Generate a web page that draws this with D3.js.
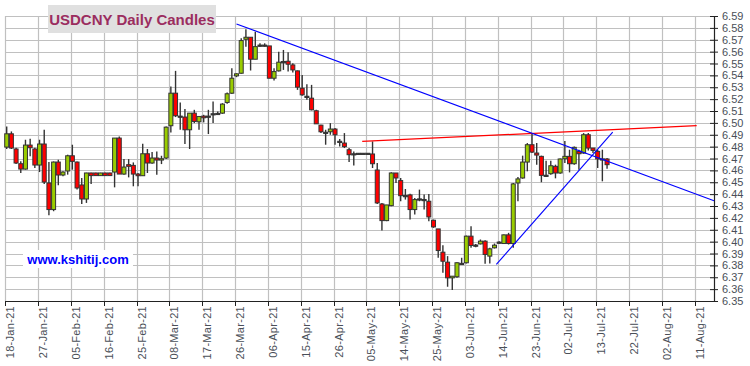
<!DOCTYPE html>
<html><head><meta charset="utf-8">
<script src="https://cdn.jsdelivr.net/npm/d3@7"></script>
<style>html,body{margin:0;padding:0;background:#fff;}svg{display:block;font-family:Arial,"Liberation Sans",sans-serif;}</style>
</head><body>
<svg id="c" width="750" height="366"></svg>
<script>
// ---- data (trading-day index from 18-Jan-21) ----
const opens = [6.4796,6.4908,6.4780,6.4656,6.4611,6.4813,6.4780,6.4645,6.4822,6.4494,6.4270,6.4670,6.4561,6.4595,6.4723,6.4670,6.4477,6.4359,6.4578,6.4578,6.4556,6.4578,6.4578,6.4586,6.4872,6.4569,6.4648,6.4642,6.4569,6.4555,6.4740,6.4662,6.4704,6.4687,6.4704,6.4976,6.5250,6.5057,6.5049,6.4942,6.5082,6.5009,6.5057,6.5054,6.5074,6.5077,6.5082,6.5172,6.5250,6.5396,6.5418,6.5704,6.5721,6.5536,6.5652,6.5655,6.5648,6.5376,6.5438,6.5514,6.5519,6.5488,6.5438,6.5292,6.5224,6.5208,6.5102,6.4981,6.4921,6.4925,6.4948,6.4845,6.4830,6.4774,6.4740,6.4744,6.4744,6.4744,6.4738,6.4603,6.4317,6.4177,6.4303,6.4578,6.4514,6.4388,6.4393,6.4270,6.4360,6.4355,6.4340,6.4180,6.4107,6.3911,6.3827,6.3695,6.3704,6.3817,6.3822,6.4046,6.3971,6.3981,6.4004,6.3878,6.3948,6.3994,6.3984,6.4057,6.3984,6.4494,6.4536,6.4670,6.4816,6.4746,6.4718,6.4559,6.4572,6.4634,6.4578,6.4698,6.4718,6.4656,6.4760,6.4746,6.4900,6.4788,6.4760,6.4697,6.4696];
const highs = [6.4970,6.4928,6.4790,6.4676,6.4858,6.4866,6.4790,6.4858,6.4942,6.4670,6.4675,6.4690,6.4592,6.4732,6.4816,6.4675,6.4536,6.4580,6.4580,6.4580,6.4580,6.4580,6.4580,6.4872,6.4886,6.4695,6.4695,6.4667,6.4578,6.4824,6.4780,6.4754,6.4760,6.4723,6.4970,6.5306,6.5438,6.5172,6.5116,6.5082,6.5110,6.5054,6.5068,6.5110,6.5180,6.5096,6.5166,6.5256,6.5460,6.5418,6.5712,6.5788,6.5721,6.5768,6.5670,6.5670,6.5648,6.5460,6.5600,6.5614,6.5594,6.5502,6.5441,6.5404,6.5326,6.5320,6.5110,6.4984,6.4942,6.4998,6.4956,6.4864,6.4914,6.4788,6.4760,6.4746,6.4746,6.4746,6.4844,6.4662,6.4326,6.4309,6.4584,6.4578,6.4536,6.4443,6.4404,6.4368,6.4438,6.4396,6.4401,6.4186,6.4107,6.3970,6.3878,6.3709,6.3827,6.3864,6.4051,6.4130,6.3981,6.4018,6.4012,6.3948,6.3984,6.4004,6.4060,6.4074,6.4494,6.4544,6.4724,6.4830,6.4914,6.4830,6.4724,6.4682,6.4682,6.4648,6.4701,6.4847,6.4774,6.4802,6.4774,6.4914,6.4914,6.4788,6.4774,6.4774,6.4704];
const lows = [6.4780,6.4780,6.4653,6.4578,6.4606,6.4718,6.4620,6.4586,6.4485,6.4222,6.4256,6.4474,6.4550,6.4564,6.4606,6.4438,6.4317,6.4326,6.4485,6.4554,6.4554,6.4554,6.4554,6.4457,6.4569,6.4564,6.4541,6.4466,6.4466,6.4555,6.4578,6.4656,6.4564,6.4653,6.4695,6.4920,6.5049,6.4942,6.4822,6.4780,6.4998,6.4942,6.5004,6.4906,6.4998,6.5068,6.5076,6.5161,6.5244,6.5385,6.5413,6.5642,6.5441,6.5536,6.5642,6.5642,6.5376,6.5357,6.5432,6.5446,6.5432,6.5424,6.5278,6.5228,6.5194,6.5105,6.4990,6.4914,6.4816,6.4900,6.4816,6.4802,6.4788,6.4670,6.4642,6.4740,6.4740,6.4740,6.4620,6.4317,6.4093,6.4172,6.4298,6.4494,6.4340,6.4354,6.4186,6.4228,6.4340,6.4270,6.4172,6.4116,6.3864,6.3738,6.3620,6.3592,6.3695,6.3808,6.3816,6.3948,6.3953,6.3976,6.3813,6.3816,6.3942,6.3984,6.3984,6.3976,6.3948,6.4340,6.4530,6.4592,6.4746,6.4648,6.4500,6.4544,6.4564,6.4533,6.4572,6.4662,6.4583,6.4648,6.4606,6.4740,6.4768,6.4746,6.4620,6.4508,6.4614];
const closes = [6.4908,6.4788,6.4662,6.4611,6.4813,6.4791,6.4645,6.4822,6.4502,6.4270,6.4670,6.4561,6.4586,6.4723,6.4676,6.4452,6.4359,6.4578,6.4556,6.4556,6.4578,6.4556,6.4556,6.4872,6.4569,6.4628,6.4634,6.4569,6.4555,6.4740,6.4662,6.4704,6.4687,6.4698,6.4964,6.5250,6.5060,6.5054,6.4942,6.5082,6.5012,6.5054,6.5043,6.5057,6.5077,6.5080,6.5158,6.5245,6.5376,6.5413,6.5693,6.5721,6.5536,6.5642,6.5655,6.5652,6.5376,6.5432,6.5511,6.5517,6.5494,6.5446,6.5301,6.5236,6.5221,6.5110,6.4992,6.4925,6.4919,6.4948,6.4900,6.4843,6.4800,6.4732,6.4738,6.4742,6.4742,6.4742,6.4656,6.4326,6.4177,6.4309,6.4578,6.4536,6.4387,6.4386,6.4270,6.4354,6.4358,6.4353,6.4208,6.4124,6.3925,6.3835,6.3695,6.3709,6.3822,6.3815,6.4046,6.3967,6.3969,6.4004,6.3892,6.3939,6.3970,6.3996,6.4057,6.3984,6.4486,6.4528,6.4670,6.4816,6.4754,6.4729,6.4558,6.4557,6.4639,6.4578,6.4696,6.4718,6.4656,6.4794,6.4740,6.4900,6.4788,6.4768,6.4696,6.4695,6.4648];

const tickLabels = ["18-Jan-21","27-Jan-21","05-Feb-21","16-Feb-21","25-Feb-21","08-Mar-21","17-Mar-21","26-Mar-21","06-Apr-21","15-Apr-21","26-Apr-21","05-May-21","14-May-21","25-May-21","03-Jun-21","14-Jun-21","23-Jun-21","02-Jul-21","13-Jul-21","22-Jul-21","02-Aug-21","11-Aug-21"];
const tickStep = 7; // trading days between date labels
const yTicks = [6.35,6.36,6.37,6.38,6.39,6.40,6.41,6.42,6.43,6.44,6.45,6.46,6.47,6.48,6.49,6.50,6.51,6.52,6.53,6.54,6.55,6.56,6.57,6.58,6.59];

// trend lines [index, price]
const downTrend = [[49.0, 6.5833], [150.8, 6.4345]];
const resistance = [[75.8, 6.4844], [147.1, 6.4976]];
const upTrend = [[104.4, 6.3808], [129.2, 6.4923]];

const title = "USDCNY Daily Candles";
const watermark = "www.kshitij.com";

(function () {
const svg = d3.select("#c");
const pL = 5.3, pR = 714, pT = 16, pB = 301;
const x = d3.scaleLinear().domain([0, 150.8]).range([6.7, pR]);
const y = d3.scaleLinear().domain([6.35, 6.59]).range([pB, pT]);
const gridOff = -1.4;

const candles = opens.map((o, i) => ({i, o, h: highs[i], l: lows[i], c: closes[i]}));

// grid
const g = svg.append("g");
g.selectAll("line.h").data(yTicks.filter(v => v > 6.35)).join("line")
  .attr("x1", pL).attr("x2", pR)
  .attr("y1", d => Math.round(y(d)) + 0.5).attr("y2", d => Math.round(y(d)) + 0.5)
  .attr("stroke", "#c0c0c0").attr("stroke-width", 1.2);
const tickIdx = tickLabels.map((t, k) => k * tickStep);
g.selectAll("line.v").data(tickIdx).join("line")
  .attr("x1", d => Math.round(x(d) + gridOff) + 0.5).attr("x2", d => Math.round(x(d) + gridOff) + 0.5)
  .attr("y1", pT).attr("y2", pB)
  .attr("stroke", "#c0c0c0").attr("stroke-width", 1.2);

// axes
const axisY = d3.axisRight(y).tickValues(yTicks).tickFormat(d3.format(".2f")).tickSize(4).tickPadding(4);
const ay = svg.append("g").attr("transform", `translate(${pR},0)`).call(axisY);
ay.select(".domain").attr("stroke", "#222").attr("stroke-width", 1.2);
ay.selectAll(".tick line").attr("x1", -4).attr("stroke", "#222");
ay.selectAll(".tick text").attr("fill", "#4a4f58").style("font-size", "11px").style("font-family", "Arial, 'Liberation Sans', sans-serif");

svg.append("line").attr("x1", pL).attr("x2", pR).attr("y1", pB + 0.5).attr("y2", pB + 0.5)
  .attr("stroke", "#222").attr("stroke-width", 1.2);
const xt = svg.append("g").selectAll("g").data(tickIdx).join("g")
  .attr("transform", d => `translate(${Math.round(x(d) + gridOff) + 0.5},${pB})`);
xt.append("line").attr("y1", 0).attr("y2", 5).attr("stroke", "#222");
xt.append("text").text((d, k) => tickLabels[k])
  .attr("transform", "rotate(-90)").attr("x", -5).attr("y", 4)
  .attr("text-anchor", "end").attr("dominant-baseline", "central")
  .attr("fill", "#4a4f58").style("font-size", "11px").style("letter-spacing", "0.3px");

// candles
const cg = svg.append("g");
const bw = 4;
cg.selectAll("line.w").data(candles).join("line")
  .attr("x1", d => x(d.i)).attr("x2", d => x(d.i))
  .attr("y1", d => y(d.h)).attr("y2", d => y(d.l))
  .attr("stroke", "#333").attr("stroke-width", 1.4);
cg.selectAll("rect").data(candles).join("rect")
  .attr("x", d => x(d.i) - bw / 2).attr("width", bw)
  .attr("y", d => Math.min(y(d.o), y(d.c)))
  .attr("height", d => Math.max(1.2, Math.abs(y(d.o) - y(d.c))))
  .attr("fill", d => Math.abs(d.c - d.o) < 0.0004 ? "#333" : (d.c > d.o ? "#99cc00" : "#ff0000"))
  .attr("stroke", "#333").attr("stroke-width", 1);

// trend lines
const line = d3.line().x(d => x(d[0])).y(d => y(d[1]));
svg.append("path").attr("d", line(resistance)).attr("stroke", "#ff0000").attr("stroke-width", 1.3).attr("fill", "none");
svg.append("path").attr("d", line(downTrend)).attr("stroke", "#0000ff").attr("stroke-width", 1.1).attr("fill", "none");
svg.append("path").attr("d", line(upTrend)).attr("stroke", "#0000ff").attr("stroke-width", 1.1).attr("fill", "none");

// title
svg.append("rect").attr("x", 48).attr("y", 5).attr("width", 168).attr("height", 28).attr("fill", "#e0e0e0");
svg.append("text").text(title).attr("x", 132).attr("y", 24.5).attr("text-anchor", "middle")
  .attr("fill", "#9b2d5f").style("font-size", "15px").style("font-weight", "bold");

// watermark
svg.append("rect").attr("x", 23).attr("y", 250).attr("width", 110).attr("height", 18).attr("fill", "#fff");
svg.append("text").text(watermark).attr("x", 78).attr("y", 264).attr("text-anchor", "middle")
  .attr("fill", "#0000ff").style("font-size", "13px").style("font-weight", "bold");
})();
</script>
</body></html>
